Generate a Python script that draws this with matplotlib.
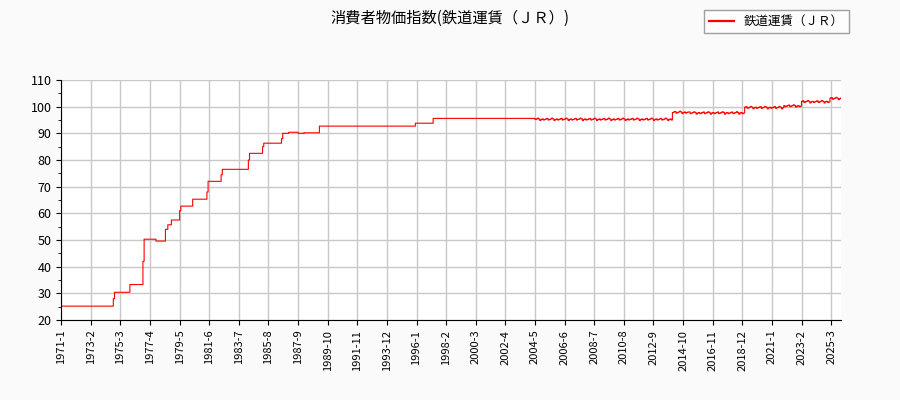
import matplotlib
matplotlib.use("Agg")
import matplotlib.pyplot as plt
import numpy as np

plt.rcParams['font.family'] = ['Noto Sans CJK JP', 'DejaVu Sans']

# step changes: (month index from 1971-1, value)
change_months = [0, 44, 45, 58, 69, 70, 80, 88, 90, 93, 100, 101, 111, 123, 124, 135, 136,
                 158, 159, 170, 171, 186, 187, 192, 200, 205, 218, 299, 314, 400, 516, 530, 577, 610, 625, 649]
change_values = [25.2, 28.0, 30.4, 33.3, 42.0, 50.3, 49.6, 54.0, 55.7, 57.5, 61.0, 62.7, 65.3, 68.0, 72.0, 74.5, 76.5,
                 80.0, 82.5, 85.0, 86.3, 88.0, 90.0, 90.4, 90.0, 90.2, 92.7, 93.8, 95.6, 95.2, 97.8, 97.6, 99.6, 100.2, 101.8, 103.0]
# seasonal wiggle read from later years (Jan..Dec)
season = [0.0, 0.2, 0.4, -0.2, 0.0, 0.2, 0.5, 0.2, -0.4, 0.0, 0.2, -0.2]
season_start = 400
n_months = 659

vals = []
for m in range(n_months):
    v = [cv for cm, cv in zip(change_months, change_values) if cm <= m][-1]
    if m >= season_start:
        v += season[m % 12]
    vals.append(v)

labels = []
for m in range(n_months):
    labels.append(f"{1971 + m // 12}-{m % 12 + 1}")

fig = plt.figure(figsize=(9, 4), dpi=100, facecolor='#fafafa')
ax = fig.add_axes([0.068, 0.2, 0.866, 0.6])
ax.set_facecolor('white')
x = np.arange(n_months)
ax.step(x, vals, where='post', color='red', lw=0.8, label='鉄道運賃（ＪＲ）')
ticks = list(range(0, n_months, 25))
ax.set_xticks(ticks)
ax.set_xticklabels([labels[t] for t in ticks], rotation=90, fontsize=8)
ax.set_xlim(0, n_months - 1)
ax.set_ylim(20, 110)
ax.set_yticks(range(20, 111, 10))
ax.set_yticks(range(20, 111, 5), minor=True)
ax.tick_params(axis='y', labelsize=9)
ax.grid(True, color='#c8c8c8', lw=1)
for s in ['top', 'right']:
    ax.spines[s].set_visible(False)
fig.suptitle('消費者物価指数(鉄道運賃（ＪＲ）)', x=0.5, y=0.975, fontsize=11)
leg = fig.legend(loc='upper right', bbox_to_anchor=(0.95, 0.99), fontsize=9, fancybox=False, edgecolor='#888888')
for l in leg.get_lines():
    l.set_linewidth(1.6)
fig.savefig('out.png', facecolor=fig.get_facecolor())
